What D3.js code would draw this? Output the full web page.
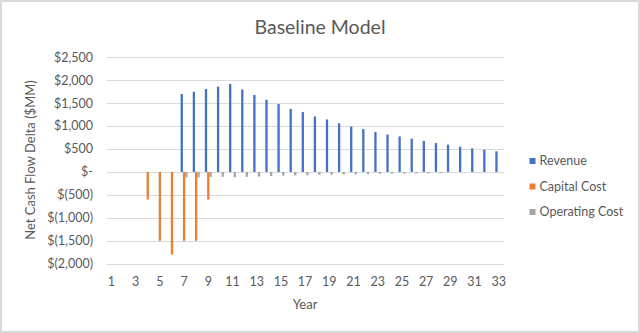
<!DOCTYPE html>
<html>
<head>
<meta charset="utf-8">
<script src="https://cdn.jsdelivr.net/npm/d3@7"></script>
<style>
  html, body { margin: 0; padding: 0; background: #fff; }
  svg { display: block; }
  text { font-family: Lato, "Open Sans", sans-serif; fill: #595959; }
</style>
</head>
<body>
<svg id="chart" width="640" height="333"></svg>
<script>
const years = d3.range(1, 34);
const revenue = [0,0,0,0,0,0,1700,1750,1810,1860,1920,1800,1680,1575,1480,1375,1305,1210,1145,1060,990,935,870,815,775,725,675,630,595,550,515,485,450];
const capitalCost = [0,0,0,-600,-1500,-1800,-1500,-1500,-600,0,0,0,0,0,0,0,0,0,0,0,0,0,0,0,0,0,0,0,0,0,0,0,0];
const operatingCost = [0,0,0,0,0,0,-120,-115,-110,-105,-115,-105,-100,-90,-80,-75,-70,-60,-60,-55,-50,-45,-40,-35,-35,-30,-30,-25,0,0,0,0,0];
const seriesNames = ["Revenue", "Capital Cost", "Operating Cost"];
const seriesColors = ["#4472C4", "#ED7D31", "#A5A5A5"];
const yTicks = [-2000,-1500,-1000,-500,0,500,1000,1500,2000,2500];
const xTickYears = d3.range(1, 34, 2);

const svg = d3.select("#chart");
const W = 640, H = 333;

// frame
svg.append("rect").attr("x", 1).attr("y", 1).attr("width", W - 2).attr("height", H - 2)
  .attr("fill", "#fff").attr("stroke", "#d9d9d9").attr("stroke-width", 2);

const x = d3.scaleBand().domain(years).range([105.4, 504.8]).paddingInner(0).paddingOuter(0);
const y = d3.scaleLinear().domain([-2000, 2500]).range([263.7, 57.3]);
const bandW = x.bandwidth();
const barW = bandW / 5.26;
const xs = d3.scaleBand().domain(seriesNames).range([bandW / 2 - 1.5 * barW, bandW / 2 + 1.5 * barW]);

// gridlines
svg.append("g").selectAll("line").data(yTicks).join("line")
  .attr("x1", 107).attr("x2", 504.5)
  .attr("y1", d => Math.round(y(d)) + 0.5).attr("y2", d => Math.round(y(d)) + 0.5)
  .attr("stroke", "#d9d9d9").attr("stroke-width", 1);

// y tick labels
const fmt = v => v === 0 ? "$-" : (v < 0 ? "$(" + d3.format(",")(-v) + ")" : "$" + d3.format(",")(v));
svg.append("g").selectAll("text").data(yTicks).join("text")
  .attr("x", 93).attr("y", d => y(d)).attr("dy", "0.35em")
  .attr("text-anchor", "end").attr("font-size", 12.5).text(fmt);

// bars
const data = [revenue, capitalCost, operatingCost];
data.forEach((arr, i) => {
  svg.append("g").selectAll("rect").data(years.map((yr, j) => ({yr, v: arr[j]})).filter(d => d.v !== 0)).join("rect")
    .attr("x", d => x(d.yr) + xs(seriesNames[i]))
    .attr("width", xs.bandwidth())
    .attr("y", d => y(Math.max(0, d.v)))
    .attr("height", d => Math.abs(y(d.v) - y(0)))
    .attr("fill", seriesColors[i]);
});

// x tick labels
svg.append("g").selectAll("text").data(xTickYears).join("text")
  .attr("x", d => x(d) + bandW / 2).attr("y", 282).attr("dy", "0.35em")
  .attr("text-anchor", "middle").attr("font-size", 12.5).text(d => d);

// axis titles
svg.append("text").attr("x", 305).attr("y", 304).attr("dy", "0.35em")
  .attr("text-anchor", "middle").attr("font-size", 13).text("Year");
svg.append("text").attr("transform", "translate(30.6,160) rotate(-90)").attr("dy", "0.35em")
  .attr("text-anchor", "middle").attr("font-size", 13).text("Net Cash Flow Delta ($MM)");

// title
svg.append("text").attr("x", 320).attr("y", 27).attr("dy", "0.35em")
  .attr("text-anchor", "middle").attr("font-size", 19.5).text("Baseline Model");

// legend
const legY = [161, 186.5, 212];
const lg = svg.append("g").selectAll("g").data(seriesNames).join("g")
  .attr("transform", (d, i) => `translate(529.5,${legY[i]})`);
lg.append("rect").attr("x", 0).attr("y", -3).attr("width", 6).attr("height", 6)
  .attr("fill", (d, i) => seriesColors[i]);
lg.append("text").attr("x", 10).attr("y", 0).attr("dy", "0.35em").attr("font-size", 12.5).text(d => d);
</script>
</body>
</html>
